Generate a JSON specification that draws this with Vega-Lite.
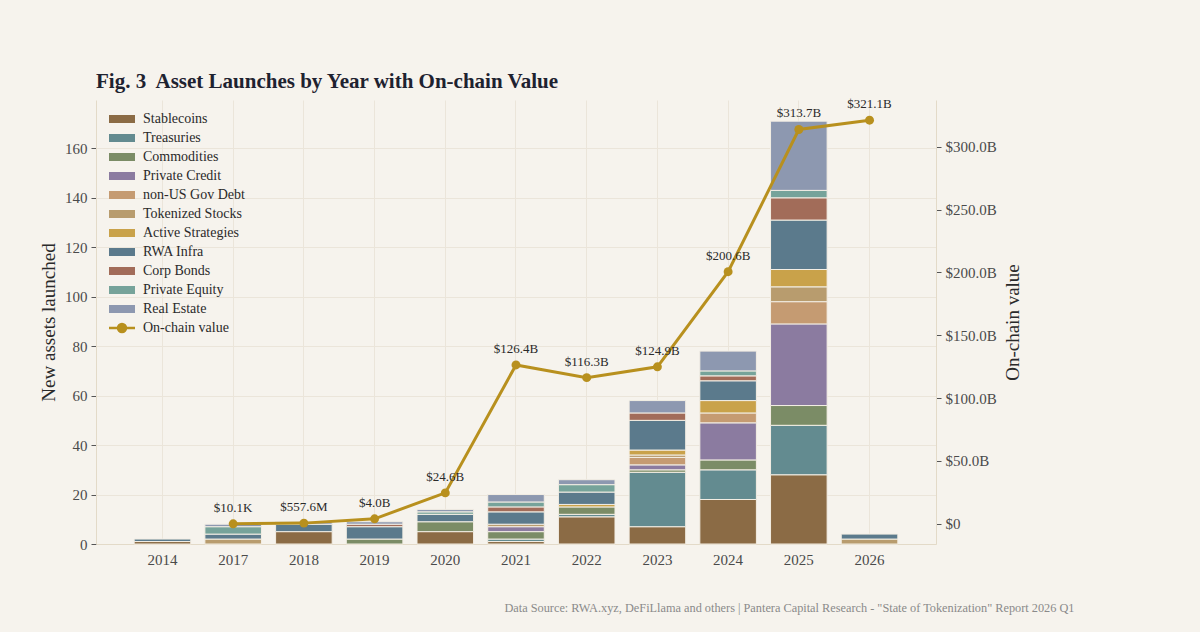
{
  "$schema": "https://vega.github.io/schema/vega-lite/v6.json",
  "width": 840,
  "height": 444,
  "autosize": {"type": "none"},
  "padding": {"left": 96, "top": 100, "right": 264, "bottom": 88},
  "background": "#f6f3ed",
  "config": {
    "view": {"stroke": null},
    "font": "Liberation Serif",
    "axis": {"labelFont": "Liberation Serif", "titleFont": "Liberation Serif", "labelColor": "#4a4a4a", "titleColor": "#2a2a2a", "labelFontSize": 15, "titleFontSize": 19, "titleFontWeight": "normal", "domainColor": "#e3dac8", "tickColor": "#555555", "gridColor": "#ebe5da"},
    "legend": {"labelFont": "Liberation Serif", "labelFontSize": 14, "labelColor": "#2a2a2a"}
  },
  "title": {"text": "Fig. 3\u00a0 Asset Launches by Year with On-chain Value", "anchor": "start", "frame": "group", "fontSize": 21, "fontWeight": "bold", "color": "#1e2230", "font": "Liberation Serif", "offset": 6},
  "datasets": {
    "launches": [
      {"year": "2014", "cat": "Stablecoins", "i": 0, "n": 1},
      {"year": "2014", "cat": "RWA Infra", "i": 7, "n": 1},
      {"year": "2017", "cat": "Tokenized Stocks", "i": 5, "n": 2},
      {"year": "2017", "cat": "RWA Infra", "i": 7, "n": 2},
      {"year": "2017", "cat": "Private Equity", "i": 9, "n": 3},
      {"year": "2017", "cat": "Real Estate", "i": 10, "n": 1},
      {"year": "2018", "cat": "Stablecoins", "i": 0, "n": 5},
      {"year": "2018", "cat": "RWA Infra", "i": 7, "n": 3},
      {"year": "2018", "cat": "Real Estate", "i": 10, "n": 1},
      {"year": "2019", "cat": "Commodities", "i": 2, "n": 2},
      {"year": "2019", "cat": "RWA Infra", "i": 7, "n": 5},
      {"year": "2019", "cat": "Corp Bonds", "i": 8, "n": 1},
      {"year": "2019", "cat": "Real Estate", "i": 10, "n": 1},
      {"year": "2020", "cat": "Stablecoins", "i": 0, "n": 5},
      {"year": "2020", "cat": "Commodities", "i": 2, "n": 4},
      {"year": "2020", "cat": "RWA Infra", "i": 7, "n": 3},
      {"year": "2020", "cat": "Private Equity", "i": 9, "n": 1},
      {"year": "2020", "cat": "Real Estate", "i": 10, "n": 1},
      {"year": "2021", "cat": "Stablecoins", "i": 0, "n": 1},
      {"year": "2021", "cat": "Treasuries", "i": 1, "n": 1},
      {"year": "2021", "cat": "Commodities", "i": 2, "n": 3},
      {"year": "2021", "cat": "Private Credit", "i": 3, "n": 2},
      {"year": "2021", "cat": "Tokenized Stocks", "i": 5, "n": 1},
      {"year": "2021", "cat": "RWA Infra", "i": 7, "n": 5},
      {"year": "2021", "cat": "Corp Bonds", "i": 8, "n": 2},
      {"year": "2021", "cat": "Private Equity", "i": 9, "n": 2},
      {"year": "2021", "cat": "Real Estate", "i": 10, "n": 3},
      {"year": "2022", "cat": "Stablecoins", "i": 0, "n": 11},
      {"year": "2022", "cat": "Treasuries", "i": 1, "n": 1},
      {"year": "2022", "cat": "Commodities", "i": 2, "n": 3},
      {"year": "2022", "cat": "Active Strategies", "i": 6, "n": 1},
      {"year": "2022", "cat": "RWA Infra", "i": 7, "n": 5},
      {"year": "2022", "cat": "Private Equity", "i": 9, "n": 3},
      {"year": "2022", "cat": "Real Estate", "i": 10, "n": 2},
      {"year": "2023", "cat": "Stablecoins", "i": 0, "n": 7},
      {"year": "2023", "cat": "Treasuries", "i": 1, "n": 22},
      {"year": "2023", "cat": "Commodities", "i": 2, "n": 1},
      {"year": "2023", "cat": "Private Credit", "i": 3, "n": 2},
      {"year": "2023", "cat": "non-US Gov Debt", "i": 4, "n": 3},
      {"year": "2023", "cat": "Tokenized Stocks", "i": 5, "n": 1},
      {"year": "2023", "cat": "Active Strategies", "i": 6, "n": 2},
      {"year": "2023", "cat": "RWA Infra", "i": 7, "n": 12},
      {"year": "2023", "cat": "Corp Bonds", "i": 8, "n": 3},
      {"year": "2023", "cat": "Real Estate", "i": 10, "n": 5},
      {"year": "2024", "cat": "Stablecoins", "i": 0, "n": 18},
      {"year": "2024", "cat": "Treasuries", "i": 1, "n": 12},
      {"year": "2024", "cat": "Commodities", "i": 2, "n": 4},
      {"year": "2024", "cat": "Private Credit", "i": 3, "n": 15},
      {"year": "2024", "cat": "non-US Gov Debt", "i": 4, "n": 4},
      {"year": "2024", "cat": "Active Strategies", "i": 6, "n": 5},
      {"year": "2024", "cat": "RWA Infra", "i": 7, "n": 8},
      {"year": "2024", "cat": "Corp Bonds", "i": 8, "n": 2},
      {"year": "2024", "cat": "Private Equity", "i": 9, "n": 2},
      {"year": "2024", "cat": "Real Estate", "i": 10, "n": 8},
      {"year": "2025", "cat": "Stablecoins", "i": 0, "n": 28},
      {"year": "2025", "cat": "Treasuries", "i": 1, "n": 20},
      {"year": "2025", "cat": "Commodities", "i": 2, "n": 8},
      {"year": "2025", "cat": "Private Credit", "i": 3, "n": 33},
      {"year": "2025", "cat": "non-US Gov Debt", "i": 4, "n": 9},
      {"year": "2025", "cat": "Tokenized Stocks", "i": 5, "n": 6},
      {"year": "2025", "cat": "Active Strategies", "i": 6, "n": 7},
      {"year": "2025", "cat": "RWA Infra", "i": 7, "n": 20},
      {"year": "2025", "cat": "Corp Bonds", "i": 8, "n": 9},
      {"year": "2025", "cat": "Private Equity", "i": 9, "n": 3},
      {"year": "2025", "cat": "Real Estate", "i": 10, "n": 28},
      {"year": "2026", "cat": "Tokenized Stocks", "i": 5, "n": 2},
      {"year": "2026", "cat": "RWA Infra", "i": 7, "n": 2}
    ],
    "onchain": [
      {"year": "2017", "value": 0.0000101, "label": "$10.1K"},
      {"year": "2018", "value": 0.5576, "label": "$557.6M"},
      {"year": "2019", "value": 4.0, "label": "$4.0B"},
      {"year": "2020", "value": 24.6, "label": "$24.6B"},
      {"year": "2021", "value": 126.4, "label": "$126.4B"},
      {"year": "2022", "value": 116.3, "label": "$116.3B"},
      {"year": "2023", "value": 124.9, "label": "$124.9B"},
      {"year": "2024", "value": 200.6, "label": "$200.6B"},
      {"year": "2025", "value": 313.7, "label": "$313.7B"},
      {"year": "2026", "value": 321.1, "label": "$321.1B"}
    ]
  },
  "encoding": {
    "x": {
      "field": "year",
      "type": "ordinal",
      "scale": {"domain": ["2014", "2017", "2018", "2019", "2020", "2021", "2022", "2023", "2024", "2025", "2026"], "paddingInner": 0.2, "paddingOuter": 0.54},
      "axis": {
        "labelAngle": 0,
        "ticks": false,
        "labelPadding": 8,
        "grid": true,
        "bandPosition": 0.5,
        "title": "Data Source: RWA.xyz, DeFiLlama and others | Pantera Capital Research - \"State of Tokenization\" Report 2026 Q1",
        "titleFontSize": 12.3,
        "titleColor": "#8a8a8a",
        "titleX": 978,
        "titleY": 63,
        "titleAlign": "right",
        "titleBaseline": "middle"
      }
    }
  },
  "layer": [
    {
      "data": {"name": "launches"},
      "mark": {"type": "bar", "stroke": "#f3eee4", "strokeWidth": 1},
      "encoding": {
        "y": {
          "field": "n",
          "type": "quantitative",
          "aggregate": "sum",
          "stack": "zero",
          "scale": {"domain": [0, 179.55], "nice": false},
          "axis": {"values": [0, 20, 40, 60, 80, 100, 120, 140, 160], "title": "New assets launched", "grid": true, "tickSize": 5, "labelPadding": 4, "titleX": -48, "titleBaseline": "middle"}
        },
        "fill": {
          "field": "cat",
          "type": "nominal",
          "scale": {
            "domain": ["Stablecoins", "Treasuries", "Commodities", "Private Credit", "non-US Gov Debt", "Tokenized Stocks", "Active Strategies", "RWA Infra", "Corp Bonds", "Private Equity", "Real Estate"],
            "range": ["#8b6b45", "#638b90", "#7b8c66", "#8b7ba0", "#c59b72", "#b89c6e", "#c9a24a", "#5b7a8c", "#a26c59", "#76a39a", "#8d98b0"]
          },
          "legend": {
            "title": null,
            "orient": "none",
            "legendX": 19,
            "legendY": 12,
            "symbolType": "M-3.25,-1L3.25,-1L3.25,1L-3.25,1Z",
            "symbolSize": 64,
            "symbolStrokeWidth": 0,
            "labelOffset": 14,
            "rowPadding": 5
          }
        },
        "order": {"field": "i", "type": "quantitative", "sort": "ascending"}
      }
    },
    {
      "data": {"name": "onchain"},
      "mark": {"type": "line", "strokeWidth": 3},
      "encoding": {
        "y": {"field": "value", "type": "quantitative", "scale": {"domain": [-16.05, 337.15], "nice": false, "zero": false}, "axis": null},
        "stroke": {
          "datum": "On-chain value",
          "scale": {"domain": ["On-chain value"], "range": ["#b8901e"]},
          "legend": {
            "title": null,
            "orient": "none",
            "legendX": 19,
            "legendY": 221,
            "symbolType": "M-3.25,0L3.25,0M-1,0A1,1 0 1,1 1,0A1,1 0 1,1 -1,0Z",
            "symbolSize": 64,
            "symbolFillColor": "#b8901e",
            "symbolStrokeWidth": 2.5,
            "labelOffset": 14
          }
        }
      }
    },
    {
      "data": {"name": "onchain"},
      "mark": {"type": "point", "filled": true, "size": 80, "opacity": 1, "color": "#b8901e"},
      "encoding": {
        "y": {"field": "value", "type": "quantitative", "scale": {"domain": [-16.05, 337.15], "nice": false, "zero": false}, "axis": null}
      }
    },
    {
      "data": {"name": "onchain"},
      "mark": {"type": "text", "dy": -16, "fontSize": 13, "color": "#2a2a2a", "font": "Liberation Serif"},
      "encoding": {
        "y": {
          "field": "value",
          "type": "quantitative",
          "scale": {"domain": [-16.05, 337.15], "nice": false, "zero": false},
          "axis": {
            "orient": "right",
            "values": [0, 50, 100, 150, 200, 250, 300],
            "labelExpr": "datum.value == 0 ? '$0' : '$' + format(datum.value, '.1f') + 'B'",
            "grid": false,
            "tickSize": 5,
            "labelPadding": 4,
            "title": "On-chain value",
            "titleAngle": 270,
            "titleX": 76,
            "titleBaseline": "middle"
          }
        },
        "text": {"field": "label"}
      }
    }
  ],
  "resolve": {"scale": {"y": "independent"}}
}
